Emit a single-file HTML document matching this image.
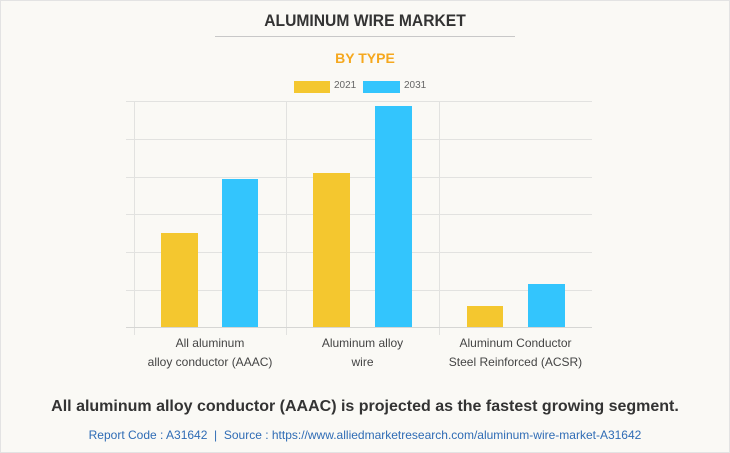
<!DOCTYPE html>
<html><head><style>
body{margin:0;width:730px;height:453px;overflow:hidden;background:#fff;font-family:"Liberation Sans",sans-serif}
.wrap{position:absolute;left:0;top:0;width:728px;height:451px;border:1px solid #e3e3e3;background:#faf9f5}
.t{position:absolute;width:730px;left:0;text-align:center;white-space:nowrap}
.b{position:absolute}
</style></head><body>
<div class="wrap"></div>
<div class="t" style="top:11px;font-size:17px;font-weight:bold;color:#333;transform:scaleX(0.92)">ALUMINUM WIRE MARKET</div>
<div class="b" style="left:215px;top:36px;width:300px;height:1px;background:#c8c8c8"></div>
<div class="t" style="top:50px;font-size:14px;font-weight:bold;color:#f5a81e">BY TYPE</div>
<div class="b" style="left:294px;top:81px;width:36px;height:12px;background:#f4c72f"></div>
<div class="b" style="left:334px;top:80px;font-size:10px;color:#666">2021</div>
<div class="b" style="left:363px;top:81px;width:37px;height:12px;background:#33c5fd"></div>
<div class="b" style="left:404px;top:80px;font-size:10px;color:#666">2031</div>
<svg class="b" style="left:0;top:0" width="730" height="453">
<g stroke="#e2e2e0" stroke-width="1">
<line x1="126" y1="101.5" x2="592" y2="101.5"/><line x1="126" y1="139.5" x2="592" y2="139.5"/>
<line x1="126" y1="177.5" x2="592" y2="177.5"/><line x1="126" y1="214.5" x2="592" y2="214.5"/>
<line x1="126" y1="252.5" x2="592" y2="252.5"/><line x1="126" y1="290.5" x2="592" y2="290.5"/>
<line x1="134.5" y1="101" x2="134.5" y2="335"/><line x1="286.5" y1="101" x2="286.5" y2="335"/>
<line x1="439.5" y1="101" x2="439.5" y2="335"/>
</g>
<line x1="126" y1="327.5" x2="592" y2="327.5" stroke="#d6d6d4"/>
<g fill="#f4c72f"><rect x="161" y="233" width="37" height="94"/><rect x="313" y="173" width="37" height="154"/><rect x="467" y="306" width="36" height="21"/></g>
<g fill="#33c5fd"><rect x="222" y="179" width="36" height="148"/><rect x="375" y="106" width="37" height="221"/><rect x="528" y="284" width="37" height="43"/></g>
</svg>
<div class="b" style="left:134px;width:152px;top:334px;text-align:center;font-size:12px;color:#444;line-height:19px">All aluminum<br>alloy conductor (AAAC)</div>
<div class="b" style="left:286px;width:153px;top:334px;text-align:center;font-size:12px;color:#444;line-height:19px">Aluminum alloy<br>wire</div>
<div class="b" style="left:439px;width:153px;top:334px;text-align:center;font-size:12px;color:#444;line-height:19px">Aluminum Conductor<br>Steel Reinforced (ACSR)</div>
<div class="t" style="top:398px;font-size:16px;font-weight:bold;color:#333">All aluminum alloy conductor (AAAC) is projected as the fastest growing segment.</div>
<div class="t" style="top:428px;font-size:12px;color:#2f6cb5">Report Code : A31642 &nbsp;|&nbsp; Source : https://www.alliedmarketresearch.com/aluminum-wire-market-A31642</div>
</body></html>
